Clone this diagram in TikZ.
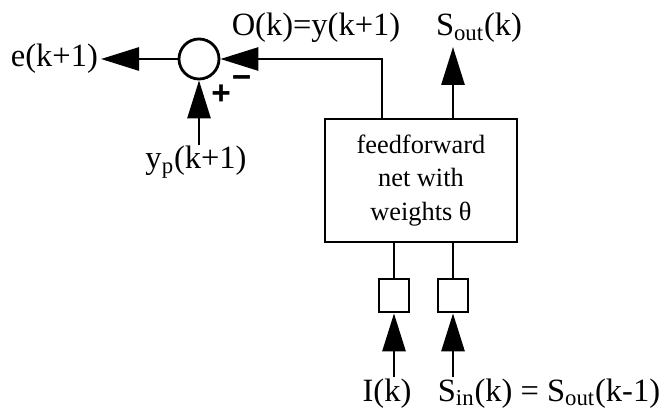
\documentclass[tikz,border=0pt]{standalone}
\usepackage{fontspec}
\setmainfont{Liberation Serif}
\newfontfamily\signfont{Liberation Sans}
\usepackage{tikz}
\usetikzlibrary{calc,arrows.meta,positioning}

\begin{document}
\begin{tikzpicture}[
  line width=1.6pt,
  every node/.style={font=\fontsize{15}{19.3}\selectfont, inner sep=0pt},
  lbl/.style={font=\fontsize{18.5}{22}\selectfont},
  netbox/.style={draw, minimum width=3.84cm, minimum height=2.46cm, align=center},
  sumnode/.style={circle, draw, minimum size=0.8cm},
  delaybox/.style={draw, minimum width=0.6cm, minimum height=0.66cm},
  sgn/.style={font=\fontsize{19}{22}\signfont\bfseries, text height=0.6em, text depth=0pt},
  sig/.style={-{Triangle[length=0.76cm,width=0.46cm]}}
]
\useasboundingbox (0,0) rectangle (13.28,-8.38);
% blocks
\node[netbox] (net) at (8.42,-3.61) {feedforward\\net with\\weights θ};
\node[sumnode] (sum) at (3.98,-1.18) {};
\node[delaybox] (d1) at (7.88,-5.91) {};
\node[delaybox] (d2) at (9.06,-5.91) {};
% labels
\node[lbl, anchor=base] (ofb) at (6.32,-0.72) {O(k)=y(k+1)};
\node[lbl, anchor=base, inner sep=1.5pt] (sout) at (9.58,-0.72) {S\textsubscript{out}(k)};
\node[lbl, anchor=east, inner sep=1pt] (err) at (2.02,-1.18) {e(k+1)};
\node[lbl, anchor=base] (yp) at (3.92,-3.38) {y\textsubscript{p}(k+1)};
\node[lbl, anchor=base] (ik) at (7.74,-8.02) {I(k)};
\node[lbl, anchor=base] (sin) at (10.98,-8.02) {S\textsubscript{in}(k) = S\textsubscript{out}(k-1)};
\node[sgn] (plus) at (4.42,-1.99) {+};
\node[sgn] (minus) at (4.83,-1.66) {−};
% signals
\draw[sig] ($(net.north west)!0.3!(net.north east)$) |- (sum.east);
\draw[sig] (sum.west) -- (err.east);
\draw[sig] (sum |- yp.north) -- (sum.south);
\draw[sig] (net.north -| d2) -- (sout.south -| d2);
\draw (d1.north) -- (net.south -| d1);
\draw (d2.north) -- (net.south -| d2);
\draw[sig] (d1 |- ik.north) -- (d1.south);
\draw[sig] (d2 |- sin.north) -- (d2.south);
\end{tikzpicture}
\end{document}
